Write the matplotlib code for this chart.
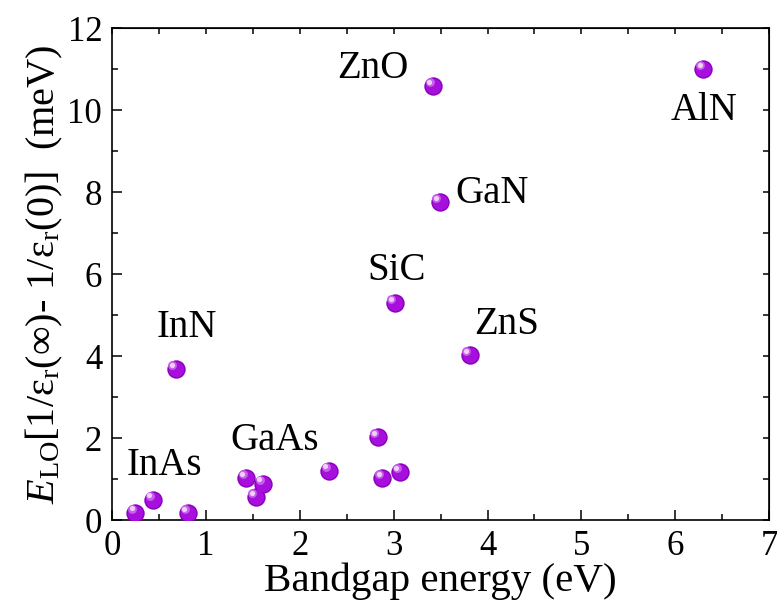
import matplotlib
matplotlib.use("Agg")
import matplotlib.pyplot as plt

# bandgap (eV) vs. E_LO [1/eps(inf) - 1/eps(0)] (meV)
bandgap = [0.25, 0.44, 0.81, 1.43, 1.61, 1.53, 2.31, 2.83, 2.88, 3.07,
           0.68, 3.01, 3.81, 3.49, 3.42, 6.30]
coupling = [0.18, 0.49, 0.17, 1.02, 0.88, 0.56, 1.20, 2.02, 1.02, 1.17,
            3.68, 5.29, 4.02, 7.76, 10.59, 11.00]

labels = ["ZnO", "AlN", "GaN", "SiC", "ZnS", "InN", "GaAs", "InAs"]
label_x = [2.78, 6.31, 4.05, 3.03, 4.20, 0.80, 1.73, 0.56]
label_y = [11.02, 10.00, 7.98, 6.10, 4.76, 4.71, 1.95, 1.34]

plt.rcParams['font.family'] = ['Liberation Serif', 'DejaVu Serif']
plt.rcParams['mathtext.fontset'] = 'custom'
plt.rcParams['mathtext.rm'] = 'Liberation Serif'
plt.rcParams['mathtext.it'] = 'Liberation Serif:italic'

fig = plt.figure(figsize=(7.77, 6.14), dpi=100)
ax = fig.add_axes([0.144, 0.153, 0.846, 0.801])

# purple spheres: dark rim, body, and a small highlight
ax.scatter(bandgap, coupling, s=175, color='#8c00bc', zorder=3, linewidths=0)
ax.scatter(bandgap, coupling, s=125, color='#a710dc', zorder=4, linewidths=0)
ax.scatter([b - 0.035 for b in bandgap], [c + 0.1 for c in coupling],
           s=40, color='#c860ec', zorder=5, linewidths=0)
ax.scatter([b - 0.04 for b in bandgap], [c + 0.11 for c in coupling],
           s=14, color='#f0d0fa', zorder=6, linewidths=0)

for name, lx, ly in zip(labels, label_x, label_y):
    ax.text(lx, ly, name, fontsize=28, ha='center', va='center')

ax.set_xlim(0, 7)
ax.set_ylim(0, 12)
ax.set_xticks(range(0, 8))
ax.set_yticks(range(0, 13, 2))
ax.set_xticks([x + 0.5 for x in range(7)], minor=True)
ax.set_yticks(range(1, 12, 2), minor=True)
ax.tick_params(which='both', direction='in', labelsize=25, width=1.1)
ax.tick_params(which='major', length=7, pad=7)
ax.tick_params(which='minor', length=4)
for sp in ax.spines.values():
    sp.set_linewidth(1.2)

# short ticks on the top and right frame
top = ax.secondary_xaxis('top')
top.set_xticks([x * 0.5 for x in range(15)])
top.tick_params(direction='in', length=4, width=1.1, labeltop=False)
right = ax.secondary_yaxis('right')
right.set_yticks(range(0, 13))
right.tick_params(direction='in', length=4, width=1.1, labelright=False)

ax.set_xlabel('Bandgap energy (eV)', fontsize=29.5, labelpad=0)
ax.set_ylabel(r'$E_{\mathrm{LO}}$[1/ε$_{\mathrm{r}}$(∞)- 1/ε$_{\mathrm{r}}$(0)]  (meV)',
              fontsize=29, labelpad=2)

fig.savefig('out.png', dpi=100)
